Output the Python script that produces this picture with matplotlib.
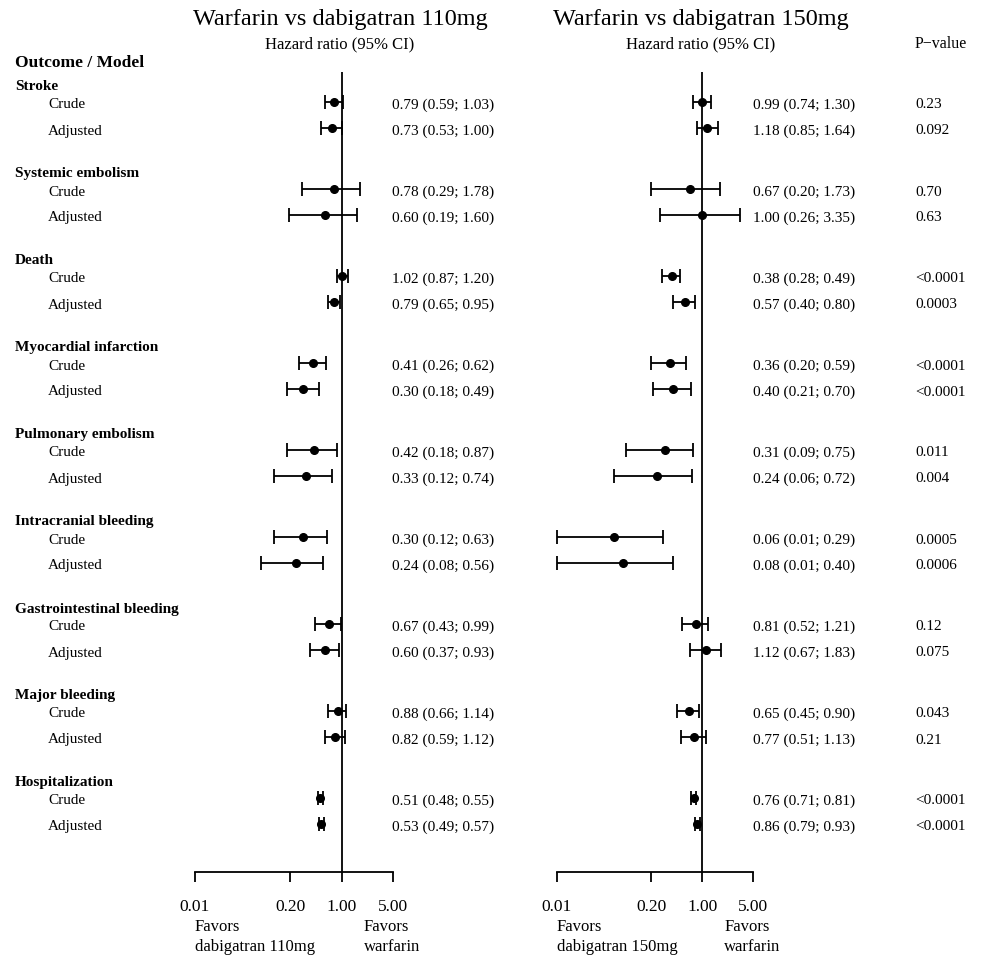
import matplotlib
matplotlib.use("Agg")
import matplotlib.pyplot as plt
import numpy as np

plt.rcParams['font.family'] = ['Liberation Serif', 'DejaVu Serif']

outcomes = ["Stroke", "Systemic embolism", "Death", "Myocardial infarction",
            "Pulmonary embolism", "Intracranial bleeding", "Gastrointestinal bleeding",
            "Major bleeding", "Hospitalization"]
models = ["Crude", "Adjusted"]

# warfarin vs dabigatran 110mg: (crude, adjusted)
hr110 = [(0.79, 0.73), (0.78, 0.60), (1.02, 0.79), (0.41, 0.30), (0.42, 0.33),
         (0.30, 0.24), (0.67, 0.60), (0.88, 0.82), (0.51, 0.53)]
lo110 = [(0.59, 0.53), (0.29, 0.19), (0.87, 0.65), (0.26, 0.18), (0.18, 0.12),
         (0.12, 0.08), (0.43, 0.37), (0.66, 0.59), (0.48, 0.49)]
hi110 = [(1.03, 1.00), (1.78, 1.60), (1.20, 0.95), (0.62, 0.49), (0.87, 0.74),
         (0.63, 0.56), (0.99, 0.93), (1.14, 1.12), (0.55, 0.57)]

# warfarin vs dabigatran 150mg
hr150 = [(0.99, 1.18), (0.67, 1.00), (0.38, 0.57), (0.36, 0.40), (0.31, 0.24),
         (0.06, 0.08), (0.81, 1.12), (0.65, 0.77), (0.76, 0.86)]
lo150 = [(0.74, 0.85), (0.20, 0.26), (0.28, 0.40), (0.20, 0.21), (0.09, 0.06),
         (0.01, 0.01), (0.52, 0.67), (0.45, 0.51), (0.71, 0.79)]
hi150 = [(1.30, 1.64), (1.73, 3.35), (0.49, 0.80), (0.59, 0.70), (0.75, 0.72),
         (0.29, 0.40), (1.21, 1.83), (0.90, 1.13), (0.81, 0.93)]
pvals = [("0.23", "0.092"), ("0.70", "0.63"), ("<0.0001", "0.0003"),
         ("<0.0001", "<0.0001"), ("0.011", "0.004"), ("0.0005", "0.0006"),
         ("0.12", "0.075"), ("0.043", "0.21"), ("<0.0001", "<0.0001")]

ticks = [0.01, 0.20, 1.00, 5.00]

W, H = 981, 962
fig = plt.figure(figsize=(W / 100, H / 100), dpi=100)


def px(x, y):
    return x / W, 1 - y / H


# row layout (pixel units from top)
TOP, BOT = 73, 873
crude_y = [103 + 87 * i for i in range(len(outcomes))]
adj_y = [y + 26 for y in crude_y]
head_y = [y - 17 for y in crude_y]


def forest(x0, x1, hr, lo, hi, title, cx, arm):
    ax = fig.add_axes([x0 / W, 1 - BOT / H, (x1 - x0) / W, (BOT - TOP) / H])
    ax.set_xscale("log")
    ax.set_xlim(0.01, 5)
    ax.set_ylim(BOT, TOP)
    for s in ["top", "right", "left"]:
        ax.spines[s].set_visible(False)
    ax.spines["bottom"].set_linewidth(1.3)
    ax.set_yticks([])
    ax.set_xticks(ticks)
    ax.set_xticklabels(["%.2f" % t for t in ticks])
    ax.minorticks_off()
    ax.tick_params(axis="x", direction="out", length=7.5, width=1.3, pad=11, labelsize=12.5)
    ax.axvline(1, color="black", lw=1.3)
    ax.patch.set_visible(False)
    for k in range(2):
        ys = crude_y if k == 0 else adj_y
        est = np.array([h[k] for h in hr])
        low = np.array([l[k] for l in lo])
        high = np.array([h[k] for h in hi])
        ax.errorbar(est, ys, xerr=[est - low, high - est], fmt="o", color="black",
                    ms=5.5, lw=1.3, capsize=5, capthick=1.3, clip_on=False)
    fig.text(*px(cx, 19), title, ha="center", va="center", fontsize=17.5)
    fig.text(*px(cx, 44), "Hazard ratio (95% CI)", ha="center", va="center", fontsize=12)
    # favors labels below axis
    ax.text(0.01, 937, "Favors\ndabigatran " + arm, ha="left", va="center",
            fontsize=12, linespacing=1.35, clip_on=False)
    ax.text(2.0, 937, "Favors\nwarfarin", ha="left", va="center",
            fontsize=12, linespacing=1.35, clip_on=False)
    return ax


forest(195, 393, hr110, lo110, hi110, "Warfarin vs dabigatran 110mg", 340, "110mg")
forest(557, 753, hr150, lo150, hi150, "Warfarin vs dabigatran 150mg", 701, "150mg")

# left labels
fig.text(*px(15, 63), "Outcome / Model", fontsize=12.5, fontweight="bold", va="center")
fig.text(*px(915, 44), "P\u2212value", fontsize=11.5, va="center")
for i, name in enumerate(outcomes):
    fig.text(*px(15, head_y[i] + 1), name, fontsize=11, fontweight="bold", va="center")
    for k, ys in enumerate([crude_y, adj_y]):
        y = ys[i] + 2
        fig.text(*px(48, y), models[k], fontsize=11, va="center")
        fig.text(*px(392, y), "%.2f (%.2f; %.2f)" % (hr110[i][k], lo110[i][k], hi110[i][k]),
                 fontsize=11, va="center")
        fig.text(*px(753, y), "%.2f (%.2f; %.2f)" % (hr150[i][k], lo150[i][k], hi150[i][k]),
                 fontsize=11, va="center")
        fig.text(*px(915, y), pvals[i][k], fontsize=11, va="center")

fig.savefig("out.png", dpi=100, facecolor="white")
